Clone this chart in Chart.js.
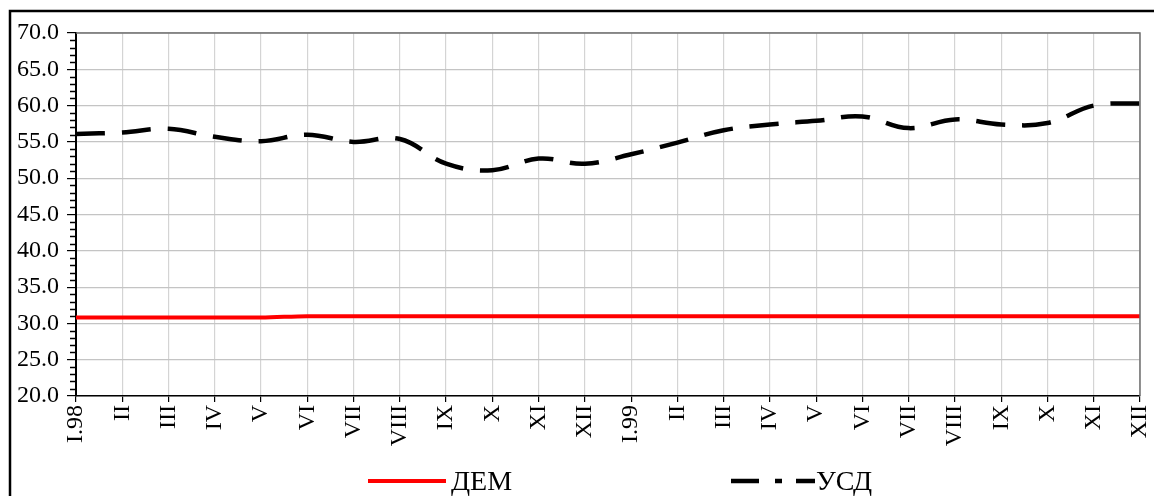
<!DOCTYPE html>
<html>
<head>
<meta charset="utf-8">
<script src="https://cdn.jsdelivr.net/npm/chart.js@4/dist/chart.umd.min.js"></script>
<style>
  html, body { margin: 0; padding: 0; background: #fff; }
  #wrap { width: 1154px; height: 496px; position: relative; }
</style>
</head>
<body>
<div id="wrap"><canvas id="c" width="1154" height="496"></canvas></div>
<script>
const categories = ['I.98','II','III','IV','V','VI','VII','VIII','IX','X','XI','XII',
                    'I.99','II','III','IV','V','VI','VII','VIII','IX','X','XI','XII'];
const demValues = [30.8,30.8,30.8,30.8,30.8,31.0,31.0,31.0,31.0,31.0,31.0,31.0,
                   31.0,31.0,31.0,31.0,31.0,31.0,31.0,31.0,31.0,31.0,31.0,31.0];
const usdValues = [56.1,56.3,56.8,55.7,55.1,56.0,55.0,55.4,52.0,51.1,52.7,52.0,
                   53.3,54.9,56.6,57.4,57.9,58.5,56.9,58.1,57.4,57.6,60.0,60.3];
const seriesNames = ['ДЕМ', 'УСД'];
const yMin = 20, yMax = 70, yStep = 5, yMinorStep = 1;

const FONT = '"Liberation Serif", "Times New Roman", serif';

const decorPlugin = {
  id: 'decor',
  afterDraw(chart) {
    const ctx = chart.ctx;
    const a = chart.chartArea;
    const ys = chart.scales.y;
    ctx.save();
    // plot area top/right frame
    ctx.strokeStyle = '#707070';
    ctx.lineWidth = 1.5;
    ctx.beginPath();
    ctx.moveTo(a.left, a.top);
    ctx.lineTo(a.right, a.top);
    ctx.lineTo(a.right, a.bottom);
    ctx.stroke();
    // minor ticks on y axis
    ctx.strokeStyle = '#000';
    ctx.lineWidth = 1.5;
    for (let v = yMin; v <= yMax + 1e-9; v += yMinorStep) {
      if (Math.abs(v / yStep - Math.round(v / yStep)) < 1e-9) continue;
      const y = Math.round(ys.getPixelForValue(v)) + 0.5;
      ctx.beginPath();
      ctx.moveTo(a.left - 6, y);
      ctx.lineTo(a.left, y);
      ctx.stroke();
    }
    // outer frame
    ctx.strokeStyle = '#000';
    ctx.lineWidth = 2.5;
    ctx.strokeRect(10, 11, 1300, 700);
    // legend
    const ly = 481;
    ctx.lineWidth = 4;
    ctx.lineCap = 'butt';
    ctx.strokeStyle = '#ff0000';
    ctx.setLineDash([]);
    ctx.beginPath();
    ctx.moveTo(368, ly);
    ctx.lineTo(446, ly);
    ctx.stroke();
    ctx.strokeStyle = '#000';
    ctx.lineWidth = 4.5;
    ctx.setLineDash([28, 16, 7, 14]);
    ctx.beginPath();
    ctx.moveTo(731, ly);
    ctx.lineTo(815, ly);
    ctx.stroke();
    ctx.setLineDash([]);
    ctx.fillStyle = '#000';
    ctx.font = '28px ' + FONT;
    ctx.textBaseline = 'alphabetic';
    ctx.fillText(seriesNames[0], 451, 490);
    ctx.fillText(seriesNames[1], 816, 490);
    ctx.restore();
  }
};

new Chart(document.getElementById('c'), {
  type: 'line',
  data: {
    labels: categories,
    datasets: [
      {
        label: seriesNames[0],
        data: demValues,
        borderColor: '#ff0000',
        borderWidth: 4,
        pointRadius: 0,
        cubicInterpolationMode: 'monotone',
        fill: false
      },
      {
        label: seriesNames[1],
        data: usdValues,
        borderColor: '#000000',
        borderWidth: 4.5,
        borderDash: [29, 17],
        pointRadius: 0,
        tension: 0.4,
        fill: false
      }
    ]
  },
  plugins: [decorPlugin],
  options: {
    responsive: false,
    animation: false,
    devicePixelRatio: 1,
    layout: { padding: { top: 33, right: 14, left: 0, bottom: 0 } },
    plugins: { legend: { display: false }, tooltip: { enabled: false }, title: { display: false } },
    scales: {
      x: {
        type: 'category',
        offset: false,
        grid: { color: '#d4d4d4', lineWidth: 1.2, tickColor: '#000', tickLength: 6, drawOnChartArea: true },
        border: { color: '#000', width: 1.5 },
        ticks: {
          autoSkip: false,
          maxRotation: 90,
          minRotation: 90,
          padding: 3,
          color: '#000',
          font: { family: FONT, size: 24 }
        },
        afterFit(s) { s.height = 100; s.paddingLeft = 0; s.paddingRight = 0; }
      },
      y: {
        min: yMin,
        max: yMax,
        grid: { color: '#c4c4c4', lineWidth: 1.2, tickColor: '#000', tickLength: 9 },
        border: { color: '#000', width: 2 },
        ticks: {
          stepSize: yStep,
          padding: 8,
          color: '#000',
          font: { family: FONT, size: 24 },
          callback: (v) => Number(v).toFixed(1)
        },
        afterFit(s) { s.width = 76; s.paddingTop = 0; s.paddingBottom = 0; }
      }
    }
  }
});
</script>
</body>
</html>
